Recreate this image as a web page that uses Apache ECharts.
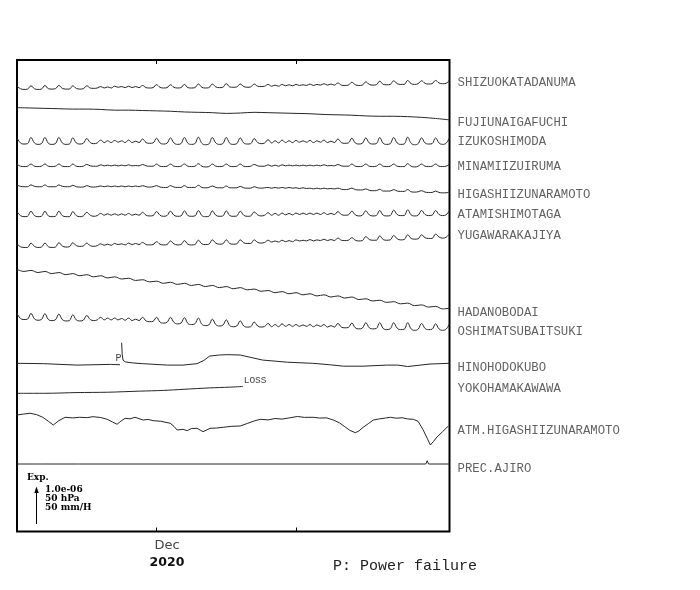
<!DOCTYPE html>
<html><head><meta charset="utf-8">
<script src="https://cdn.jsdelivr.net/npm/echarts@6/dist/echarts.min.js"></script>
<style>html,body{margin:0;padding:0;background:#fff}#c{width:700px;height:590px}</style>
</head><body><div id="c"></div>
<script>
// ================= DATA =================
// time axis: days since 2020-11-21 00:00 (plot spans 31 days)
const periodDays = 31;
const tickDays = [10, 20];            // 2020-12-01, 2020-12-11
const monthLabel = 'Dec';
const yearLabel = '2020';
const monthLabelDay = 10.75;

const stationNames = ['SHIZUOKATADANUMA','FUJIUNAIGAFUCHI','IZUKOSHIMODA','MINAMIIZUIRUMA',
  'HIGASHIIZUNARAMOTO','ATAMISHIMOTAGA','YUGAWARAKAJIYA','HADANOBODAI','OSHIMATSUBAITSUKI',
  'HINOHODOKUBO','YOKOHAMAKAWAWA','ATM.HIGASHIIZUNARAMOTO','PREC.AJIRO'];

// strain records, units of 1e-8 (extension positive), read every 6 hours
const tideStepDays = 0.25;
const shizuokaTadanuma = [
 5,-2,-4,-3, 6,-2,-4,-3, 7,-2,-3,-2, 7,-1,-3,-3, 6,-1,-3,-2, 6,0,-1,0, 4,0,3,0, 5,2,4,1,
 5,1,4,1, 7,1,0,1, 9,2,0,1, 9,2,0,1, 10,1,0,1, 11,2,0,1, 11,3,1,2, 12,3,2,3, 11,4,2,3,
 11,5,4,5, 10,5,8,5, 10,6,9,6, 10,7,9,7, 11,7,10,8, 12,8,11,8, 14,8,7,8, 16,9,7,8,
 17,10,8,9, 19,10,9,10, 20,12,10,10, 21,12,10,12, 20,13,11,12, 21,14,12,13, 22];
const izuKoshimoda = [
 10,-4,-7,-6, 11,-4,-8,-6, 11,-5,-8,-6, 11,-4,-8,-7, 10,-4,-7,-5, 8,-3,-6,-4, 4,-3,2,-3,
 3,-2,2,-3, 4,-3,1,-3, 7,-3,-5,-4, 9,-4,-7,-5, 10,-4,-8,-6, 11,-5,-8,-6, 12,-5,-9,-7,
 11,-4,-8,-6, 11,-5,-8,-6, 10,-4,-7,-6, 8,-3,-6,-4, 5,-4,2,-4, 4,-3,2,-3, 3,-2,2,-2,
 3,-3,2,-2, 4,-3,1,-3, 7,-3,-5,-4, 9,-4,-7,-5, 10,-4,-7,-6, 11,-5,-8,-6, 11,-4,-8,-7,
 12,-5,-9,-6, 10,-4,-7,-6, 10,-4,-8,-5, 10];
const minamiizuIruma = [
 4,-2,-3,-2, 4,-2,-3,-2, 4,-2,-3,-2, 4,-2,-3,-3, 4,-2,-3,-2, 3,-1,-2,-2, 2,-1,1,-1,
 1,-1,1,-1, 2,-1,0,-1, 3,-1,-2,-2, 4,-2,-3,-2, 4,-2,-3,-2, 4,-2,-3,-2, 5,-2,-4,-3,
 4,-2,-3,-2, 4,-2,-3,-2, 4,-2,-3,-2, 3,-1,-2,-2, 2,-2,1,-2, 2,-1,1,-1, 1,-1,1,-1,
 1,-1,1,-1, 2,-1,0,-1, 3,-1,-2,-2, 4,-2,-3,-2, 4,-2,-3,-2, 4,-2,-3,-2, 4,-2,-3,-3,
 5,-2,-4,-2, 4,-2,-3,-2, 4,-2,-3,-2, 4];
const higashiizuNaramoto = [
 3,-1,-2,-2, 3,-1,-2,-2, 3,-2,-2,-2, 3,-1,-2,-2, 2,-2,-3,-3, 1,-2,-3,-2, 0,-2,0,-2,
 0,-2,0,-2, 0,-2,0,-2, 1,-2,-3,-2, 1,-3,-4,-4, 1,-3,-4,-4, 1,-4,-4,-4, 2,-4,-5,-4,
 0,-4,-5,-5, 0,-5,-5,-5, -1,-5,-6,-6, -2,-5,-6,-5, -4,-6,-4,-6, -4,-6,-4,-6, -5,-7,-5,-7,
 -6,-8,-6,-8, -6,-8,-7,-8, -6,-9,-10,-9, -6,-10,-11,-11, -8,-12,-13,-13, -9,-14,-14,-14,
 -10,-14,-15,-15, -10,-16,-17,-16, -13,-17,-18,-18, -14,-18,-19,-19, -16];
const atamiShimotaga = [
 8,-3,-6,-5, 9,-3,-6,-5, 9,-4,-6,-5, 9,-3,-6,-6, 8,-3,-6,-4, 6,-2,-5,-3, 3,-2,2,-2,
 2,-2,2,-2, 3,-2,1,-2, 6,-2,-4,-3, 8,-2,-5,-3, 9,-2,-5,-4, 10,-3,-5,-4, 11,-3,-6,-5,
 10,-2,-5,-4, 10,-3,-5,-4, 9,-2,-5,-4, 7,-1,-4,-2, 5,-2,3,-2, 4,-1,3,-1, 4,0,4,0,
 4,0,4,0, 5,0,3,0, 8,0,-2,-1, 9,-1,-4,-2, 10,-1,-4,-3, 11,-2,-4,-3, 12,0,-3,-3,
 13,-1,-4,-2, 11,0,-3,-2, 11,0,-3,-1, 11];
const yugawaraKajiya = [
 6,-2,-4,-4, 8,-1,-4,-3, 8,-2,-4,-3, 9,0,-3,-2, 9,1,-1,0, 8,1,-1,1, 6,2,5,2, 7,4,6,3,
 8,4,7,4, 10,4,3,4, 12,5,3,4, 14,6,3,4, 15,5,3,4, 16,6,4,5, 17,8,5,6, 17,7,5,6,
 17,9,7,7, 17,10,8,10, 16,11,14,11, 16,12,15,12, 17,14,16,14, 18,14,17,15, 19,15,18,15,
 22,16,15,16, 23,16,14,15, 26,18,16,16, 28,18,16,17, 29,20,17,18, 31,21,19,20,
 31,23,21,21, 33,25,22,24, 34];
const oshimaTsubaitsuki = [
 10,-4,-7,-6, 10,-5,-9,-7, 9,-7,-10,-8, 8,-7,-11,-10, 6,-8,-11,-9, 4,-7,-10,-8, -1,-8,-3,-8,
 -3,-8,-4,-9, -3,-10,-6,-10, -1,-11,-13,-12, -1,-14,-17,-15, -1,-15,-19,-17, -2,-18,-21,-19,
 -3,-20,-24,-22, -6,-21,-25,-23, -8,-24,-27,-25, -11,-25,-28,-27, -14,-25,-28,-26,
 -18,-27,-21,-27, -19,-26,-21,-26, -21,-26,-22,-26, -21,-27,-22,-26, -21,-28,-24,-28,
 -18,-28,-30,-29, -17,-30,-33,-31, -16,-30,-33,-32, -16,-32,-35,-33, -16,-31,-35,-34,
 -16,-33,-37,-34, -18,-32,-35,-34, -19,-33,-37,-34, -19];
// daily readings
const fujiunaiDays = [0,1,2,3,4,5,6,7,8,9,10,11,12,13,14,15,16,17,18,19,20,21,22,23,24,25,26,27,28,29,30,31];
const fujiunaiGafuchi = [1,0,-1,-2,-3,-3,-4,-6,-6,-7,-8,-9,-11,-12,-13,-15,-14,-12,-13,-14,-15,-16,-18,-19,-20,-22,-23,-23,-24,-26,-29,-33];
// half-day readings
const hadanoStepDays = 0.5;
const hadanoBodai = [
 2,-4, -1,-7, -4,-10, -7,-13, -10,-16, -13,-19, -16,-22, -19,-25, -23,-29, -27,-33,
 -31,-37, -34,-40, -37,-43, -40,-46, -43,-49, -46,-52, -49,-55, -53,-59, -57,-63, -60,-66,
 -63,-69, -66,-72, -69,-75, -72,-78, -75,-82, -80,-86, -84,-90, -88,-94, -92,-99, -97,-103,
 -101,-108, -106];
// irregular readings (null = no data)
const hinoDays = [0,1.9,4.3,6.7,7.38,7.44,7.5,7.54,7.6,7.75,8.3,9.0,10.8,11.9,12.9,13.4,13.8,14.5,15.1,16,17.6,19.4,21.2,22.4,23.4,24.8,26.5,27.3,28.0,29.6,31];
const hinoHodokubo = [0,-1,-5,-3,-4,null,57,25,9,4,1,-1,-5,-5,-1,8,20,23,24,23,9,3,0,-4,-8,-8,-5,-5,-9,-2,0];
const yokohamaDays = [0,2,4.3,6.5,8.8,10.5,11.9,13.8,15.2,16.2];
const yokohamaKawawa = [0,0,2,3,6,8,11,15,17,19];
// atmospheric pressure, hPa
const atmDays = [0,0.45,0.93,1.4,1.85,2.25,2.6,3.0,3.45,4.0,4.5,5.0,5.45,6.0,6.46,6.85,7.17,7.45,7.75,8.1,8.46,9.04,9.4,9.76,10.3,10.98,11.25,11.48,11.9,12.2,12.5,12.9,13.34,13.84,14.3,14.78,15.4,16,16.5,17.0,17.43,18.0,18.5,19.0,19.5,20.1,20.6,21.23,21.7,22.2,22.67,23.1,23.5,23.85,24.25,24.5,24.8,25.2,25.54,26.0,26.4,26.76,27.2,27.6,28.0,28.41,28.75,29.1,29.4,29.63,29.85,30.1,30.5,30.92];
const atmHigashiizu = [1028.3,1029.5,1030.7,1028.8,1025.1,1019.5,1014.4,1020.5,1025.1,1024.2,1025.1,1024.6,1025.9,1024.8,1022.3,1018.5,1015.4,1019.8,1023.7,1023.0,1025.1,1021.3,1022.2,1020.4,1019.6,1016.8,1012.5,1007.4,1008.4,1006.5,1009.5,1009.8,1005.1,1009.8,1010.2,1011.2,1012.6,1013,1016.5,1020.0,1022.3,1021.5,1023.4,1022.6,1024.2,1026.2,1025.0,1025.1,1024.0,1024.3,1021.3,1017.5,1012.0,1007.0,1003.7,1006.0,1011.0,1016.5,1021.3,1023.0,1024.0,1025.1,1023.8,1024.5,1022.8,1022.3,1019.5,1008.0,996.0,986.6,991.5,997.7,1005.0,1013];
// precipitation, mm/H
const precDays = [0,1.55,1.65,1.75,4.27,4.37,4.47,29.3,29.4,29.5,31];
const precAjiro = [0,0,1.5,0,0,1.5,0,0,4.5,0,0];

// full scale of the scale arrow
const strainFull = 100;   // 1.0e-06 in 1e-8 units
const hpaFull = 50;
const mmhFull = 50;

// ================= LAYOUT =================
const G = {left:17, right:250.5, top:60, bottom:58.5};
const plotH = 590 - G.top - G.bottom;
const arrowPx = 36;
const tickLen = 4;
// vertical level (px below plot top) of each trace's reference value
const traceBase = [28, 48, 81.5, 105.5, 126, 154.5, 186, 210, 257, 303.3, 333.3, 366, 404];
const traceRef  = [0,0,0,0,0,0,0,0,0,0,0,1013,0];
const labelLevel = [23, 63, 82, 106.3, 134.5, 155, 176, 253, 272, 308, 329, 370.3, 408.7];

function grid(step, n){ const a=[]; for(let i=0;i<n;i++) a.push(i*step); return a; }
const qT = grid(tideStepDays, izuKoshimoda.length);
const hT = grid(hadanoStepDays, hadanoBodai.length);

const traces = [
  {t:qT, v:shizuokaTadanuma, full:strainFull, smooth:0.4},
  {t:fujiunaiDays, v:fujiunaiGafuchi, full:strainFull, smooth:0.3},
  {t:qT, v:izuKoshimoda, full:strainFull, smooth:0.4},
  {t:qT, v:minamiizuIruma, full:strainFull, smooth:0.4},
  {t:qT, v:higashiizuNaramoto, full:strainFull, smooth:0.4},
  {t:qT, v:atamiShimotaga, full:strainFull, smooth:0.4},
  {t:qT, v:yugawaraKajiya, full:strainFull, smooth:0.4},
  {t:hT, v:hadanoBodai, full:strainFull, smooth:0.4},
  {t:qT, v:oshimaTsubaitsuki, full:strainFull, smooth:0.4},
  {t:hinoDays, v:hinoHodokubo, full:strainFull, smooth:false},
  {t:yokohamaDays, v:yokohamaKawawa, full:strainFull, smooth:0.3},
  {t:atmDays, v:atmHigashiizu, full:hpaFull, smooth:false},
  {t:precDays, v:precAjiro, full:mmhFull, smooth:false}
];

const lineColor = '#262626';
const series = traces.map((tr, i) => {
  const k = arrowPx / tr.full;
  const data = tr.t.map((t, j) => [t, tr.v[j] == null ? '-' : traceBase[i] - (tr.v[j] - traceRef[i]) * k]);
  return {
    type:'line', name: stationNames[i], data, showSymbol:false, smooth: tr.smooth,
    lineStyle:{color:lineColor, width:1}, animation:false, silent:true, clip:false,
    connectNulls:false
  };
});
// inward time ticks on top and bottom frame
const tickPairs = [];
tickDays.forEach(d => {
  tickPairs.push([{coord:[d, 0]}, {coord:[d, tickLen]}]);
  tickPairs.push([{coord:[d, plotH - tickLen]}, {coord:[d, plotH]}]);
});
series[0].markLine = {symbol:['none','none'], silent:true, animation:false,
  label:{show:false}, lineStyle:{color:'#000', width:1, type:'solid'}, data: tickPairs};
// annotations attached to traces
series[9].markPoint = {symbol:'circle', symbolSize:0, silent:true, animation:false,
  data:[{coord:[7.28, 298.3], value:'P'}],
  label:{show:true, position:'inside', formatter:'P', fontFamily:'Liberation Mono', fontSize:10, color:'#444'}};
series[10].markPoint = {symbol:'circle', symbolSize:0, silent:true, animation:false,
  data:[{coord:[16.25, 320.5], value:'LOSS'}],
  label:{show:true, position:'right', distance:0, formatter:'LOSS', fontFamily:'Liberation Mono', fontSize:9.5, color:'#444'}};
// station labels
series.push({
  type:'scatter', symbolSize:0, silent:true, animation:false, clip:false,
  data: stationNames.map((n,i)=>({name:n, value:[periodDays, labelLevel[i]]})),
  label:{show:true, position:'right', distance:8, formatter:'{b}', fontFamily:'Liberation Mono', fontSize:12.3, color:'#3a3a3a'},
  labelLayout:{hideOverlap:false}
});

const option = {
  backgroundColor:'#fff',
  animation:false,
  grid:{left:G.left, right:G.right, top:G.top, bottom:G.bottom, show:true, borderColor:'#000', borderWidth:2, backgroundColor:'transparent'},
  xAxis:{type:'value', min:0, max:periodDays, position:'bottom', splitLine:{show:false},
      axisLine:{show:false, onZero:false}, axisTick:{show:false},
      axisLabel:{show:true, customValues:[monthLabelDay], margin:6,
        formatter:()=>'{m|'+monthLabel+'}\n{y|'+yearLabel+'}',
        rich:{m:{fontFamily:'DejaVu Sans', fontSize:13, lineHeight:17, color:'#444'},
              y:{fontFamily:'DejaVu Sans', fontSize:12.5, fontWeight:'bold', lineHeight:17, color:'#111'}}}},
  yAxis:{type:'value', min:0, max:plotH, inverse:true, show:false},
  series,
  graphic:[
    {type:'text', left:27, top:473, style:{text:'Exp.', font:'bold 9px "DejaVu Serif"', fill:'#000'}},
    {type:'line', shape:{x1:36.5, y1:524, x2:36.5, y2:491}, style:{stroke:'#000', lineWidth:1}},
    {type:'polygon', shape:{points:[[34.3,493],[36.5,486.5],[38.7,493]]}, style:{fill:'#000'}},
    {type:'text', left:45, top:485, style:{text:'1.0e-06', font:'bold 9px "DejaVu Serif"', fill:'#000'}},
    {type:'text', left:45, top:494, style:{text:'50 hPa', font:'bold 9px "DejaVu Serif"', fill:'#000'}},
    {type:'text', left:45, top:503, style:{text:'50 mm/H', font:'bold 9px "DejaVu Serif"', fill:'#000'}},
    {type:'text', left:333, top:559, style:{text:'P: Power failure', font:'15px "Liberation Mono"', fill:'#222'}}
  ]
};
const chart = echarts.init(document.getElementById('c'), null, {renderer:'canvas'});
chart.setOption(option);
</script></body></html>
